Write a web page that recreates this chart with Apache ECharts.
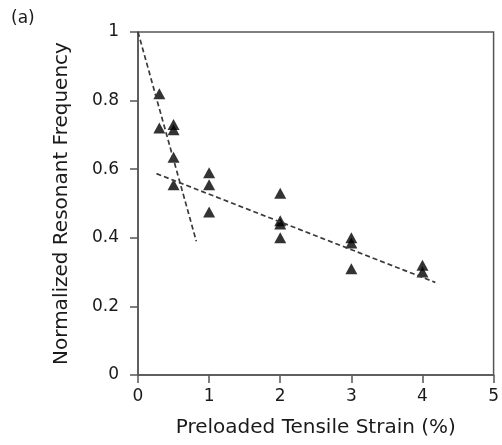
<!DOCTYPE html>
<html>
<head>
<meta charset="utf-8">
<script src="https://cdn.jsdelivr.net/npm/echarts@6/dist/echarts.min.js"></script>
<style>html,body{margin:0;padding:0;background:#fff;}#c{width:502px;height:445px;}</style>
</head>
<body>
<div id="c"></div>
<script>
// Measured points (strain %, normalized resonant frequency)
var strainX = [0.3, 0.3, 0.5, 0.5, 0.5, 0.5, 1, 1, 1, 2, 2, 2, 2, 3, 3, 3, 4, 4];
var freqY   = [0.82, 0.72, 0.73, 0.715, 0.635, 0.555, 0.59, 0.555, 0.475, 0.53, 0.45, 0.44, 0.40, 0.40, 0.385, 0.31, 0.32, 0.30];
// Dashed fit lines
var fit1X = [0, 0.82];
var fit1Y = [1.0, 0.39];
var fit2X = [0.26, 4.18];
var fit2Y = [0.587, 0.27];
var xTicks = [0, 1, 2, 3, 4, 5];
var yTicks = [0, 0.2, 0.4, 0.6, 0.8, 1];

function pairs(xs, ys){ return xs.map(function(x,i){ return [x, ys[i]]; }); }

var font = 'DejaVu Sans';
var axisCol = '#555';
var chart = echarts.init(document.getElementById('c'), null, {renderer:'canvas'});
chart.setOption({
  animation:false,
  backgroundColor:'#fff',
  title:{text:'(a)', left:6, top:5, textStyle:{fontFamily:font, fontSize:17, fontWeight:'normal', color:'#1a1a1a'}},
  grid:{left:138, right:5, top:32, bottom:70, show:true, borderColor:axisCol, borderWidth:1.5, backgroundColor:'transparent'},
  xAxis:{
    type:'value', min:0, max:5, interval:1,
    name:'Preloaded Tensile Strain (%)', nameLocation:'middle', nameGap:43,
    nameTextStyle:{fontFamily:font, fontSize:20, color:'#1a1a1a'},
    axisLine:{show:true, lineStyle:{color:axisCol, width:1.5}},
    axisTick:{show:true, inside:false, length:8, lineStyle:{color:axisCol, width:1.5}},
    axisLabel:{fontFamily:font, fontSize:17, color:'#1a1a1a', margin:13,
      formatter:function(v){ return xTicks.indexOf(v) >= 0 ? String(v) : ''; }},
    splitLine:{show:false}
  },
  yAxis:{
    type:'value', min:0, max:1, interval:0.2,
    name:'Normalized Resonant Frequency', nameLocation:'middle', nameGap:66, nameRotate:90,
    nameTextStyle:{fontFamily:font, fontSize:20, color:'#1a1a1a'},
    axisLine:{show:true, lineStyle:{color:axisCol, width:1.5}},
    axisTick:{show:true, inside:false, length:8, lineStyle:{color:axisCol, width:1.5}},
    axisLabel:{fontFamily:font, fontSize:17, color:'#1a1a1a', margin:19,
      formatter:function(v){
        for (var i=0;i<yTicks.length;i++){ if (Math.abs(yTicks[i]-v)<1e-9) return String(yTicks[i]); }
        return '';
      }},
    splitLine:{show:false}
  },
  series:[
    {type:'line', data:pairs(fit1X, fit1Y), symbol:'none', silent:true,
     lineStyle:{color:'#3a3a3a', width:1.7, type:[5,3]}},
    {type:'line', data:pairs(fit2X, fit2Y), symbol:'none', silent:true,
     lineStyle:{color:'#3a3a3a', width:1.7, type:[5,3]}},
    {type:'scatter', data:pairs(strainX, freqY), symbol:'triangle', symbolSize:[12,11],
     itemStyle:{color:'#000'}}
  ]
});
</script>
</body>
</html>
